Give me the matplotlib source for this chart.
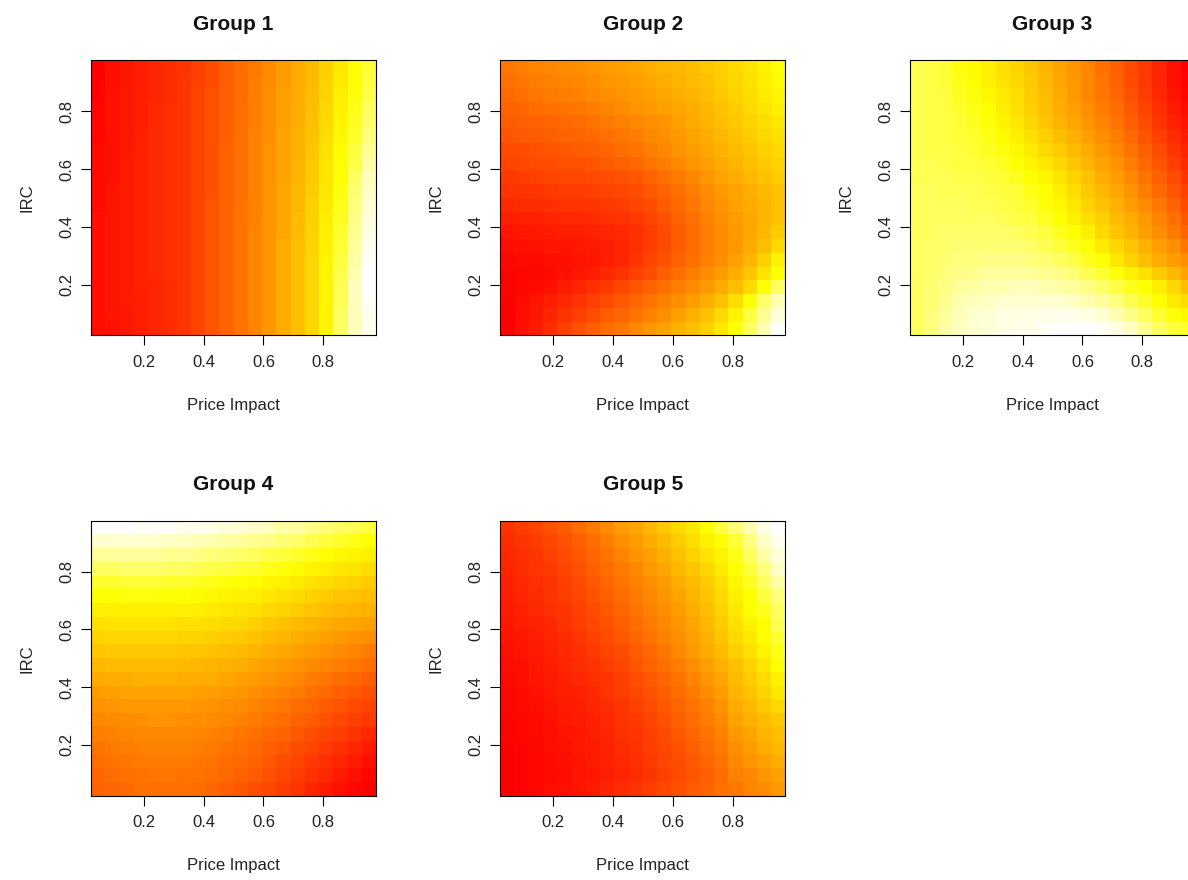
import numpy as np
import matplotlib
matplotlib.use("Agg")
import matplotlib.pyplot as plt
from matplotlib.colors import LinearSegmentedColormap

plt.rcParams['font.family'] = ['Liberation Sans', 'DejaVu Sans']

# Grid: 20 x 20 cells, centres at k/21 (k = 1..20)
price_impact = [k / 21 for k in range(1, 21)]
irc = [k / 21 for k in range(1, 21)]
titles = ["Group 1", "Group 2", "Group 3", "Group 4", "Group 5"]
xticks = [0.2, 0.4, 0.6, 0.8]
yticks = [0.2, 0.4, 0.6, 0.8]

# Values on a 0-100 scale, rows listed from top (IRC high) to bottom (IRC low)
group1 = [
    [0, 4, 7, 9, 11, 13, 15, 19, 23, 28, 32, 36, 41, 46, 50, 55, 61, 68, 75, 80],
    [1, 4, 7, 9, 11, 13, 16, 19, 23, 28, 32, 37, 41, 46, 50, 55, 62, 69, 75, 81],
    [1, 5, 7, 9, 11, 13, 16, 20, 24, 28, 32, 37, 42, 47, 50, 56, 62, 70, 76, 82],
    [2, 5, 7, 9, 12, 14, 16, 20, 24, 28, 33, 37, 42, 47, 51, 56, 63, 71, 77, 84],
    [2, 5, 7, 9, 12, 14, 16, 20, 24, 28, 33, 37, 42, 47, 51, 57, 64, 72, 78, 85],
    [2, 5, 7, 10, 12, 14, 16, 20, 24, 28, 33, 38, 42, 48, 52, 57, 65, 73, 79, 87],
    [3, 5, 7, 10, 12, 14, 16, 20, 24, 29, 33, 38, 43, 48, 52, 58, 66, 74, 81, 89],
    [3, 5, 8, 10, 12, 14, 16, 20, 24, 29, 33, 38, 43, 48, 53, 59, 67, 75, 82, 91],
    [3, 5, 8, 10, 12, 14, 16, 20, 24, 29, 33, 38, 43, 48, 53, 59, 67, 75, 84, 93],
    [3, 6, 8, 10, 12, 14, 16, 20, 24, 29, 33, 38, 43, 49, 54, 60, 68, 76, 86, 94],
    [3, 6, 8, 10, 12, 14, 16, 20, 25, 29, 34, 38, 43, 49, 54, 61, 69, 77, 87, 95],
    [4, 6, 8, 10, 12, 14, 16, 20, 25, 29, 34, 38, 44, 49, 55, 61, 70, 78, 88, 96],
    [4, 6, 8, 10, 12, 14, 16, 20, 25, 29, 34, 39, 44, 49, 55, 62, 71, 79, 89, 97],
    [4, 6, 8, 10, 12, 14, 16, 20, 25, 29, 34, 39, 44, 50, 56, 62, 71, 80, 90, 98],
    [4, 6, 8, 10, 12, 14, 16, 20, 25, 29, 34, 39, 44, 50, 56, 63, 72, 81, 91, 99],
    [4, 6, 8, 10, 12, 14, 16, 20, 25, 29, 34, 39, 44, 50, 56, 63, 72, 82, 92, 100],
    [4, 6, 8, 10, 11, 13, 16, 20, 25, 29, 34, 39, 44, 50, 56, 63, 72, 83, 93, 100],
    [4, 6, 8, 9, 11, 13, 16, 20, 25, 29, 34, 39, 44, 50, 56, 63, 72, 83, 93, 99],
    [4, 6, 7, 9, 11, 13, 16, 20, 25, 29, 34, 39, 44, 50, 56, 63, 72, 84, 93, 98],
    [4, 5, 7, 9, 11, 13, 16, 20, 25, 29, 34, 39, 44, 50, 56, 63, 72, 84, 93, 98],
]

group2 = [
    [35, 37, 39, 40, 41, 42, 44, 46, 47, 49, 51, 53, 54, 56, 59, 61, 64, 67, 71, 75],
    [33, 35, 37, 38, 39, 40, 42, 44, 45, 47, 49, 51, 53, 55, 57, 60, 63, 66, 70, 74],
    [31, 33, 35, 36, 37, 38, 40, 42, 43, 45, 47, 49, 51, 53, 56, 59, 62, 65, 69, 72],
    [29, 30, 32, 33, 34, 35, 37, 39, 41, 43, 45, 47, 49, 51, 54, 57, 60, 64, 67, 70],
    [27, 28, 29, 30, 31, 32, 34, 36, 38, 40, 42, 44, 47, 50, 53, 56, 59, 62, 65, 68],
    [25, 26, 27, 28, 29, 30, 31, 33, 35, 37, 40, 42, 45, 48, 51, 54, 57, 60, 63, 66],
    [22, 23, 24, 25, 26, 27, 28, 30, 32, 34, 37, 40, 43, 46, 49, 52, 55, 58, 61, 64],
    [20, 21, 22, 23, 24, 24, 25, 27, 29, 31, 34, 37, 40, 44, 47, 50, 53, 56, 59, 62],
    [17, 18, 19, 20, 21, 21, 22, 23, 24, 26, 29, 32, 36, 40, 44, 48, 51, 54, 57, 60],
    [15, 16, 16, 17, 18, 18, 19, 20, 21, 23, 26, 29, 33, 37, 41, 45, 48, 51, 54, 57],
    [12, 13, 13, 14, 15, 15, 16, 17, 18, 20, 23, 27, 31, 35, 40, 43, 47, 50, 53, 57],
    [9, 10, 10, 11, 12, 12, 13, 14, 15, 17, 20, 24, 29, 33, 38, 42, 46, 49, 53, 57],
    [6, 7, 7, 8, 9, 9, 10, 11, 12, 14, 18, 22, 27, 32, 37, 41, 45, 49, 54, 60],
    [4, 5, 5, 6, 6, 7, 8, 9, 11, 14, 18, 22, 27, 32, 37, 41, 45, 50, 56, 64],
    [2, 3, 3, 4, 5, 6, 7, 9, 11, 16, 20, 24, 29, 33, 38, 42, 47, 53, 61, 71],
    [1, 2, 2, 3, 5, 7, 9, 12, 15, 19, 23, 28, 32, 37, 41, 46, 51, 58, 67, 75],
    [1, 2, 3, 5, 8, 11, 14, 17, 21, 25, 29, 33, 37, 41, 45, 50, 56, 64, 75, 84],
    [0, 3, 6, 9, 12, 15, 19, 22, 26, 30, 34, 38, 42, 46, 51, 57, 65, 75, 85, 92],
    [0, 4, 7, 11, 15, 19, 23, 27, 30, 34, 38, 42, 47, 52, 57, 64, 72, 81, 89, 96],
    [0, 5, 8, 13, 19, 24, 28, 32, 35, 40, 44, 47, 52, 56, 61, 68, 75, 84, 92, 100],
]

group3 = [
    [83, 82, 80, 76, 74, 70, 66, 62, 58, 53, 48, 44, 39, 33, 28, 22, 17, 11, 5, 0],
    [83, 82, 80, 77, 75, 71, 67, 63, 59, 54, 49, 45, 40, 35, 29, 23, 17, 11, 5, 1],
    [83, 82, 81, 78, 76, 73, 69, 65, 60, 55, 50, 45, 40, 35, 30, 24, 18, 12, 6, 2],
    [83, 82, 81, 79, 77, 75, 70, 66, 61, 56, 51, 47, 42, 37, 32, 26, 20, 14, 8, 4],
    [83, 82, 81, 80, 78, 76, 72, 68, 63, 58, 53, 49, 44, 39, 34, 28, 22, 16, 10, 6],
    [83, 82, 81, 80, 79, 77, 74, 70, 66, 61, 56, 52, 47, 42, 37, 31, 25, 19, 13, 8],
    [83, 82, 82, 81, 80, 78, 76, 73, 69, 64, 60, 55, 50, 45, 40, 34, 28, 22, 16, 11],
    [83, 83, 82, 81, 81, 80, 78, 75, 72, 68, 63, 58, 53, 48, 43, 37, 31, 25, 19, 13],
    [83, 83, 83, 82, 82, 81, 80, 78, 75, 72, 67, 62, 57, 51, 46, 40, 34, 28, 22, 16],
    [84, 84, 83, 83, 83, 82, 81, 80, 77, 75, 70, 65, 59, 54, 49, 43, 37, 31, 25, 19],
    [84, 84, 84, 84, 83, 83, 82, 81, 79, 76, 73, 68, 62, 57, 52, 46, 41, 35, 29, 22],
    [84, 84, 84, 84, 84, 84, 83, 82, 81, 78, 75, 71, 66, 61, 55, 50, 45, 39, 33, 26],
    [84, 84, 85, 85, 85, 85, 85, 84, 83, 81, 78, 75, 70, 64, 58, 53, 47, 42, 36, 30],
    [84, 85, 85, 86, 86, 86, 86, 86, 85, 83, 81, 78, 75, 69, 63, 58, 52, 47, 42, 35],
    [84, 85, 86, 87, 87, 88, 88, 88, 87, 86, 84, 82, 78, 75, 68, 62, 56, 51, 46, 42],
    [84, 85, 87, 88, 89, 90, 90, 90, 90, 89, 88, 86, 83, 80, 76, 71, 66, 60, 54, 48],
    [84, 86, 88, 90, 91, 92, 92, 93, 93, 92, 91, 90, 88, 85, 82, 78, 75, 70, 63, 56],
    [84, 86, 89, 92, 93, 94, 95, 95, 95, 95, 95, 94, 92, 90, 87, 83, 79, 75, 69, 65],
    [84, 87, 90, 93, 95, 96, 97, 97, 97, 98, 98, 98, 97, 95, 92, 88, 84, 80, 76, 73],
    [84, 87, 91, 94, 95, 96, 97, 98, 98, 99, 100, 100, 100, 99, 97, 94, 89, 85, 81, 79],
]

group4 = [
    [100, 100, 100, 99, 99, 99, 98, 98, 97, 96, 95, 94, 93, 91, 90, 88, 86, 84, 83, 81],
    [95, 95, 95, 95, 95, 94, 94, 93, 92, 91, 90, 89, 88, 86, 85, 83, 81, 79, 77, 75],
    [90, 90, 90, 90, 90, 89, 89, 88, 87, 86, 85, 84, 82, 81, 79, 77, 75, 73, 72, 70],
    [84, 84, 85, 85, 85, 84, 84, 83, 82, 81, 80, 79, 77, 76, 74, 72, 70, 68, 67, 65],
    [79, 79, 80, 80, 80, 79, 79, 78, 77, 76, 75, 74, 72, 71, 69, 67, 65, 63, 62, 60],
    [75, 75, 76, 76, 76, 75, 75, 74, 73, 72, 71, 70, 68, 66, 64, 62, 60, 58, 57, 56],
    [70, 71, 71, 71, 71, 71, 70, 70, 69, 68, 67, 66, 64, 62, 60, 58, 56, 54, 53, 52],
    [66, 67, 67, 67, 67, 67, 66, 66, 65, 64, 63, 61, 59, 57, 55, 53, 51, 49, 48, 47],
    [62, 63, 63, 63, 63, 63, 62, 62, 61, 60, 59, 57, 55, 53, 51, 49, 47, 45, 43, 42],
    [58, 59, 59, 59, 59, 59, 58, 58, 57, 56, 55, 53, 51, 49, 47, 45, 43, 41, 39, 37],
    [54, 55, 55, 55, 55, 55, 55, 54, 53, 52, 51, 49, 47, 45, 43, 41, 39, 37, 35, 33],
    [50, 51, 51, 52, 52, 52, 51, 51, 50, 49, 47, 46, 44, 42, 40, 37, 35, 32, 30, 28],
    [46, 47, 48, 48, 48, 48, 48, 47, 46, 45, 44, 42, 40, 38, 36, 33, 31, 28, 26, 24],
    [43, 44, 45, 45, 45, 45, 45, 44, 43, 42, 41, 39, 37, 35, 32, 30, 27, 25, 22, 20],
    [40, 41, 42, 42, 43, 43, 42, 42, 41, 40, 38, 36, 34, 32, 29, 27, 24, 21, 19, 17],
    [37, 38, 39, 40, 40, 40, 40, 39, 38, 37, 35, 33, 31, 29, 26, 23, 20, 18, 15, 12],
    [34, 36, 37, 38, 38, 38, 38, 37, 36, 34, 33, 31, 28, 26, 23, 20, 17, 14, 11, 8],
    [32, 34, 35, 36, 36, 36, 36, 35, 34, 32, 31, 29, 26, 23, 20, 17, 14, 11, 8, 5],
    [30, 32, 33, 34, 35, 35, 34, 34, 33, 31, 29, 27, 24, 21, 18, 15, 12, 8, 5, 2],
    [29, 30, 31, 33, 33, 33, 33, 32, 30, 28, 26, 23, 21, 18, 15, 11, 8, 5, 2, 0],
]

group5 = [
    [15, 18, 20, 24, 27, 32, 36, 41, 46, 49, 54, 59, 64, 68, 75, 81, 86, 92, 97, 100],
    [13, 16, 18, 21, 24, 28, 32, 37, 42, 46, 50, 55, 60, 65, 70, 75, 80, 87, 94, 98],
    [12, 14, 16, 19, 22, 26, 30, 34, 39, 43, 47, 52, 57, 62, 67, 72, 77, 84, 91, 96],
    [11, 13, 15, 17, 20, 24, 28, 32, 36, 40, 45, 49, 54, 58, 63, 69, 75, 81, 87, 94],
    [10, 12, 14, 16, 19, 22, 26, 30, 34, 38, 42, 46, 51, 55, 60, 66, 73, 78, 84, 91],
    [9, 11, 13, 15, 18, 21, 24, 28, 32, 36, 40, 44, 48, 53, 58, 64, 71, 75, 81, 87],
    [8, 10, 12, 14, 16, 19, 22, 26, 30, 34, 38, 42, 46, 51, 56, 62, 68, 75, 78, 84],
    [7, 9, 10, 12, 15, 18, 21, 24, 28, 32, 36, 40, 44, 49, 54, 60, 66, 71, 75, 83],
    [6, 7, 9, 11, 13, 16, 19, 22, 26, 30, 34, 38, 42, 47, 52, 58, 64, 68, 75, 80],
    [5, 6, 8, 10, 12, 14, 17, 20, 23, 27, 31, 35, 40, 45, 50, 55, 61, 66, 72, 77],
    [4, 5, 7, 9, 11, 13, 15, 18, 21, 25, 29, 33, 37, 42, 47, 52, 57, 62, 68, 75],
    [3, 4, 6, 8, 10, 12, 14, 16, 19, 23, 26, 30, 34, 39, 44, 49, 55, 60, 65, 71],
    [2, 3, 5, 7, 9, 10, 12, 15, 18, 21, 24, 28, 32, 36, 41, 46, 53, 57, 62, 68],
    [2, 3, 4, 6, 8, 9, 11, 13, 16, 19, 22, 26, 30, 34, 38, 43, 50, 54, 59, 64],
    [1, 2, 3, 5, 7, 8, 10, 12, 15, 17, 20, 24, 28, 32, 36, 41, 48, 52, 55, 59],
    [1, 2, 3, 4, 6, 7, 9, 11, 14, 16, 19, 22, 26, 30, 34, 38, 45, 48, 53, 56],
    [0, 1, 2, 4, 5, 7, 8, 10, 13, 15, 18, 21, 24, 28, 32, 36, 42, 46, 50, 54],
    [0, 1, 2, 3, 5, 6, 8, 10, 12, 14, 17, 20, 23, 26, 30, 34, 40, 44, 47, 51],
    [0, 1, 2, 3, 4, 6, 7, 9, 11, 13, 16, 19, 22, 25, 28, 32, 38, 40, 44, 47],
    [0, 1, 2, 4, 5, 6, 8, 11, 13, 15, 18, 21, 24, 27, 29, 33, 35, 39, 41, 45],
]

groups = [group1, group2, group3, group4, group5]

# R heat.colors-like palette: red -> yellow (first 3/4) -> white
heat = LinearSegmentedColormap.from_list(
    "heat", [(0.0, "#FF0000"), (0.75, "#FFFF00"), (1.0, "#FFFFFF")], N=256)

W, H = 1188, 880
fig = plt.figure(figsize=(W / 100, H / 100), dpi=100)

lefts = [91, 500.3, 910]
tops = [60.5, 520.7]
aw, ah = 285, 275

positions = [(lefts[0], tops[0]), (lefts[1], tops[0]), (lefts[2], tops[0]),
             (lefts[0], tops[1]), (lefts[1], tops[1])]

x = np.array(price_impact)
y = np.array(irc)
half = 0.5 / 21

for (lx, ty), data, title in zip(positions, groups, titles):
    ax = fig.add_axes([lx / W, 1 - (ty + ah) / H, aw / W, ah / H])
    Z = np.array(data, dtype=float)[::-1]
    ax.pcolormesh(x, y, Z, cmap=heat, vmin=0, vmax=100, shading="nearest",
                  edgecolors="none", antialiased=False)
    ax.set_xlim(x[0] - half, x[-1] + half)
    ax.set_ylim(y[0] - half, y[-1] + half)
    ax.set_xticks(xticks)
    ax.set_yticks(yticks)
    ax.set_xticklabels([f"{t:.1f}" for t in xticks])
    ax.set_yticklabels([f"{t:.1f}" for t in yticks], rotation=90, va="center")
    ax.tick_params(axis="both", direction="out", length=7.2, width=0.8,
                   labelsize=12, color="black", labelcolor="#222222")
    ax.tick_params(axis="x", pad=7)
    ax.tick_params(axis="y", pad=5)
    for s in ax.spines.values():
        s.set_linewidth(0.8)
        s.set_color("black")
    ax.set_title(title, fontsize=15, fontweight="bold", pad=22, color="#111111")
    ax.set_xlabel("Price Impact", fontsize=12, color="#222222")
    ax.xaxis.label.set_va("center")
    ax.xaxis.set_label_coords(0.5, -(405 - 335) / ah)
    ax.set_ylabel("IRC", fontsize=12, color="#222222")
    ax.yaxis.label.set_va("center")
    ax.yaxis.set_label_coords(-(91 - 27) / aw, 0.5)

fig.savefig("out.png", dpi=100)
